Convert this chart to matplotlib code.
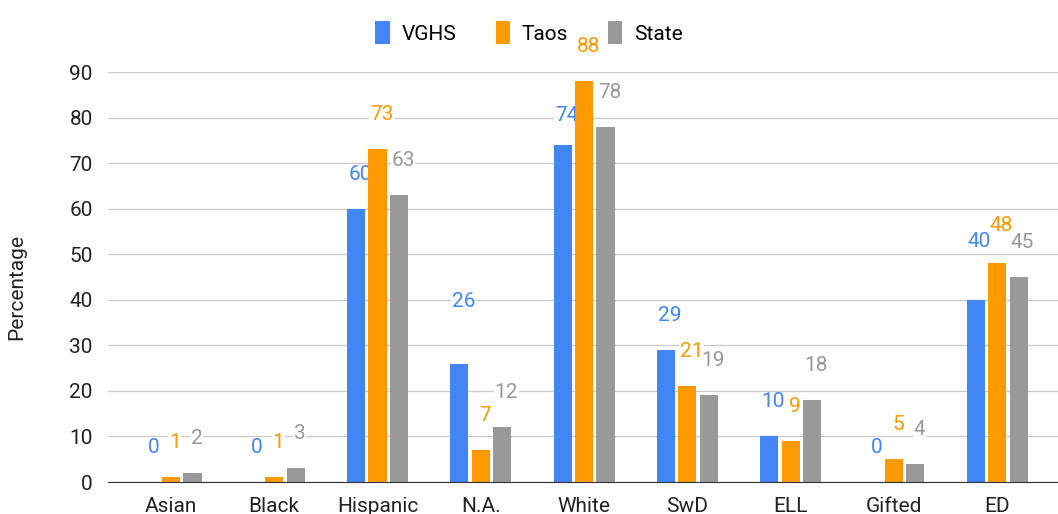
import numpy as np
import matplotlib
matplotlib.use("Agg")
import matplotlib.pyplot as plt

plt.rcParams['font.family'] = ['Roboto', 'DejaVu Sans']

categories = ['Asian', 'Black', 'Hispanic', 'N.A.', 'White', 'SwD', 'ELL', 'Gifted', 'ED']
vghs = [0, 0, 60, 26, 74, 29, 10, 0, 40]
taos = [1, 1, 73, 7, 88, 21, 9, 5, 48]
state = [2, 3, 63, 12, 78, 19, 18, 4, 45]

series = [('VGHS', vghs, '#4285F4'), ('Taos', taos, '#FF9900'), ('State', state, '#999999')]

# how far above the bar top each label sits (data units), google-sheets style
LIFT = 7.6
extra_lift = {(0, 3): 6.1, (0, 8): 5.3, (0, 4): -1.1, (1, 8): 0.6}

FS = 15

fig = plt.figure(figsize=(10.58, 5.14), dpi=100)
ax = fig.add_axes([108/1058, 32/514, 950/1058, 410/514])

x = np.arange(len(categories))
w = 0.175
step = 0.208
for s, (name, vals, col) in enumerate(series):
    pos = x + (s - 1) * step
    ax.bar(pos, vals, w, color=col, label=name, zorder=3)
    for i, v in enumerate(vals):
        y = v + LIFT + extra_lift.get((s, i), 0)
        ax.text(pos[i] + 4/103.25, y, str(v), color=col, fontsize=FS,
                ha='center', va='center', zorder=2.5,
                bbox=dict(facecolor='white', edgecolor='none', pad=0.5))

ax.set_xlim(-0.61, 8.59)
ax.set_ylim(0, 90)
ax.set_yticks(range(0, 91, 10))
ax.set_xticks(x)
ax.set_xticklabels(categories)
ax.tick_params(axis='both', length=0, labelsize=FS, colors='#222222')
ax.tick_params(axis='x', pad=11)
ax.tick_params(axis='y', pad=11)
ax.yaxis.grid(True, color='#cccccc', linewidth=1, zorder=0)
for side in ['top', 'right', 'left']:
    ax.spines[side].set_visible(False)
ax.spines['bottom'].set_color('#333333')
ax.spines['bottom'].set_zorder(5)

ax.set_ylabel('Percentage', fontsize=FS, color='#222222')
ax.yaxis.set_label_coords(-0.086, 0.475)

fig.legend(loc='upper center', bbox_to_anchor=(0.5, 0.995), ncol=3, frameon=False,
           fontsize=FS, handlelength=0.7, handleheight=1.3, handletextpad=0.55,
           columnspacing=1.9)

plt.savefig('out.png', dpi=100)
